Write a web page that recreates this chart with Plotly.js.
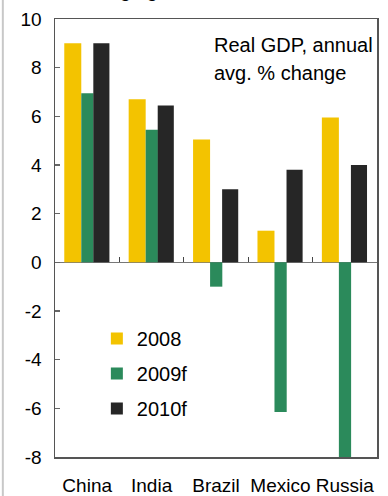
<!DOCTYPE html>
<html>
<head>
<meta charset="utf-8">
<script src="https://cdn.plot.ly/plotly-3.0.1.min.js"></script>
<style>html,body{margin:0;padding:0;background:#fff;}#chart{width:388px;height:496px;}</style>
</head>
<body>
<div id="chart"></div>
<script>
const categories = ['China', 'India', 'Brazil', 'Mexico', 'Russia'];
const gdp2008 = [9.0, 6.7, 5.05, 1.3, 5.95];
const gdp2009f = [6.95, 5.45, -1.0, -6.15, -8.0];
const gdp2010f = [9.0, 6.45, 3.0, 3.8, 4.0];
const seriesNames = ['2008', '2009f', '2010f'];
const yTicks = [-8, -6, -4, -2, 0, 2, 4, 6, 8, 10];
const titleText = 'Emerging market economies';
const noteLines = ['Real GDP, annual', 'avg. % change'];

const FONT = 'Liberation Sans, Arial, sans-serif';
const boundaries = categories.slice(1).map((_, i) => i + 0.5);

function barTrace(name, vals, color, offset, width, group) {
  return {
    type: 'bar', name: name, x: categories, y: vals,
    marker: {color: color, line: {width: 0}},
    offset: offset, width: width, legendgroup: group,
    hoverinfo: 'x+y+name'
  };
}

const traces = [
  barTrace(seriesNames[0], gdp2008, '#F3C300', -0.356, 0.264, 'a'),
  barTrace(seriesNames[1], gdp2009f, '#2B8A5B', -0.092, 0.19, 'b'),
  barTrace(seriesNames[2], gdp2010f, '#262626', 0.095, 0.25, 'c'),
  {type: 'scatter', mode: 'markers', x: [0], y: [null], xaxis: 'x2', yaxis: 'y',
   showlegend: false, hoverinfo: 'skip'}
];

const layout = {
  width: 388, height: 496,
  margin: {l: 55, r: 11, t: 19, b: 39},
  paper_bgcolor: '#fff', plot_bgcolor: '#fff',
  font: {family: FONT, color: '#000', size: 19},
  barmode: 'overlay',
  showlegend: true,
  legend: {
    x: 0.13, y: 0.315, xanchor: 'left', yanchor: 'top',
    bgcolor: 'rgba(0,0,0,0)', font: {family: FONT, size: 20, color: '#000'},
    traceorder: 'grouped', tracegroupgap: 6, itemwidth: 30
  },
  xaxis: {
    type: 'category', range: [-0.5, 4.5],
    showline: true, mirror: true, linecolor: '#555', linewidth: 1.5,
    ticks: '', showgrid: false, zeroline: false,
    tickfont: {family: FONT, size: 19, color: '#000'},
    ticklabelstandoff: 11, fixedrange: true
  },
  xaxis2: {
    overlaying: 'x', anchor: 'free', position: 8 / 18, side: 'bottom',
    range: [-0.5, 4.5], tickmode: 'array', tickvals: boundaries,
    ticks: 'inside', ticklen: 5, tickcolor: '#444', tickwidth: 1,
    showticklabels: false, showgrid: false, zeroline: false, showline: false
  },
  yaxis: {
    range: [-8, 10], tickmode: 'array', tickvals: yTicks,
    ticktext: yTicks.map(v => String(v)),
    showline: true, mirror: true, linecolor: '#555', linewidth: 1.5,
    ticks: 'inside', ticklen: 5, tickcolor: '#666', tickwidth: 1.5,
    showgrid: false, zeroline: true, zerolinecolor: '#777', zerolinewidth: 1.5,
    tickfont: {family: FONT, size: 19, color: '#000'},
    ticklabelstandoff: 8, fixedrange: true
  },
  annotations: [
    {text: noteLines[0], xref: 'paper', yref: 'paper', x: 0.488, y: 0.9406,
     xanchor: 'left', yanchor: 'middle', align: 'left', showarrow: false,
     font: {family: FONT, size: 20, color: '#000'}},
    {text: noteLines[1], xref: 'paper', yref: 'paper', x: 0.488, y: 0.8767,
     xanchor: 'left', yanchor: 'middle', align: 'left', showarrow: false,
     font: {family: FONT, size: 20, color: '#000'}},
    {text: titleText, xref: 'paper', yref: 'paper', x: 0.45, y: 1.036,
     xanchor: 'center', yanchor: 'bottom', showarrow: false,
     font: {family: FONT, size: 20, color: '#000'}}
  ],
  shapes: [
    {type: 'line', xref: 'paper', yref: 'paper', x0: -0.162, x1: -0.162, y0: -0.1, y1: 1.06,
     line: {color: '#c8c8c8', width: 2}}
  ]
};

Plotly.newPlot('chart', traces, layout, {displayModeBar: false, staticPlot: true});
</script>
</body>
</html>
